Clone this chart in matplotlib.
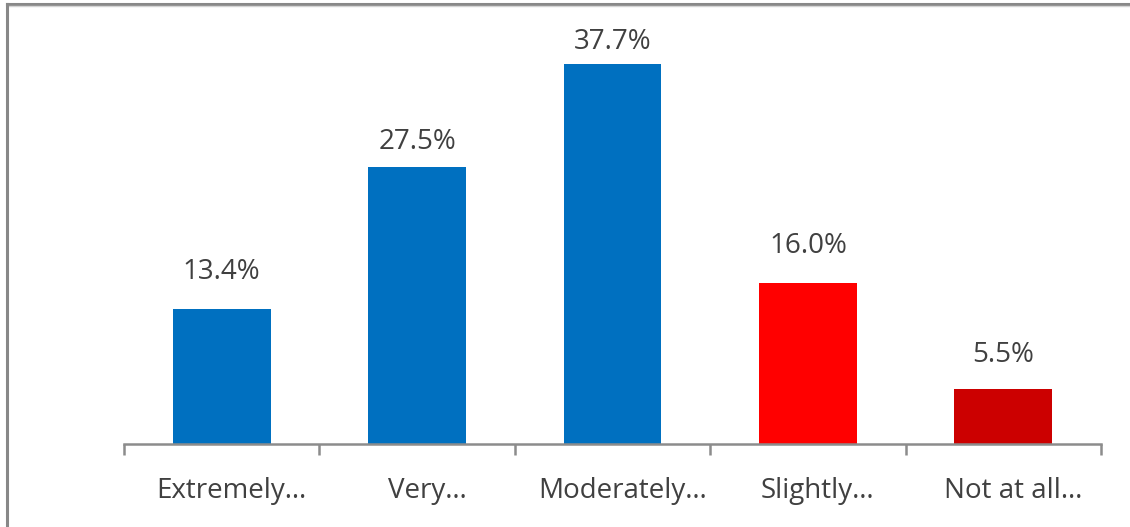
import matplotlib.pyplot as plt
import matplotlib.transforms as mtransforms
from matplotlib.lines import Line2D

categories = ["Extremely…", "Very…", "Moderately…", "Slightly…", "Not at all…"]
values = [13.4, 27.5, 37.7, 16.0, 5.5]
colors = ["#0070C0", "#0070C0", "#0070C0", "#FF0000", "#CC0000"]

plt.rcParams['font.family'] = ['Open Sans', 'DejaVu Sans']

W, H = 1130, 527
fig = plt.figure(figsize=(W / 100, H / 100), dpi=100)

# axes placed in pixel terms: x from 124 to 1101, baseline at y=444
ax = fig.add_axes([124 / W, (H - 444) / H, 977 / W, 403.2 / H])
x = list(range(len(categories)))
bars = ax.bar(x, values, width=0.5, color=colors, zorder=2)

# gap between bar top and label centre (data units), as laid out in the original
label_gap = [3.7, 2.5, 2.2, 3.6, 3.3]
for b, v, g in zip(bars, values, label_gap):
    ax.text(b.get_x() + b.get_width() / 2, v + g, f"{v:.1f}%",
            ha="center", va="center", fontsize=20, color="#404040")

ax.set_xlim(-0.5, len(categories) - 0.5)
ax.set_ylim(0, 40)

for s in ["top", "right", "left"]:
    ax.spines[s].set_visible(False)
ax.spines["bottom"].set_color("#8C8C8C")
ax.spines["bottom"].set_linewidth(1.8)
ax.set_yticks([])

ax.set_xticks(x)
ax.set_xticklabels(categories, fontsize=20, color="#404040")
ax.tick_params(axis="x", which="major", length=0, pad=24)
shift = mtransforms.ScaledTranslation(10 / 100, 0, fig.dpi_scale_trans)
for lab in ax.get_xticklabels():
    lab.set_transform(lab.get_transform() + shift)
ax.set_xticks([i - 0.5 for i in range(len(categories) + 1)], minor=True)
ax.tick_params(axis="x", which="minor", length=8, width=1.8, color="#8C8C8C", direction="out")

# outer frame, only top and left edges fall inside the image
fx = 6.5 / W
fy = 1 - 4.0 / H
fig.add_artist(Line2D([fx, 1.01], [fy, fy], transform=fig.transFigure,
                      color="#888888", linewidth=2.2))
fig.add_artist(Line2D([fx, 1.01], [fy - 1.8 / H, fy - 1.8 / H], transform=fig.transFigure,
                      color="#D4D4D4", linewidth=1.0))
fig.add_artist(Line2D([fx, fx], [-0.01, fy], transform=fig.transFigure,
                      color="#888888", linewidth=2.2))

fig.savefig("out.png", dpi=100)
